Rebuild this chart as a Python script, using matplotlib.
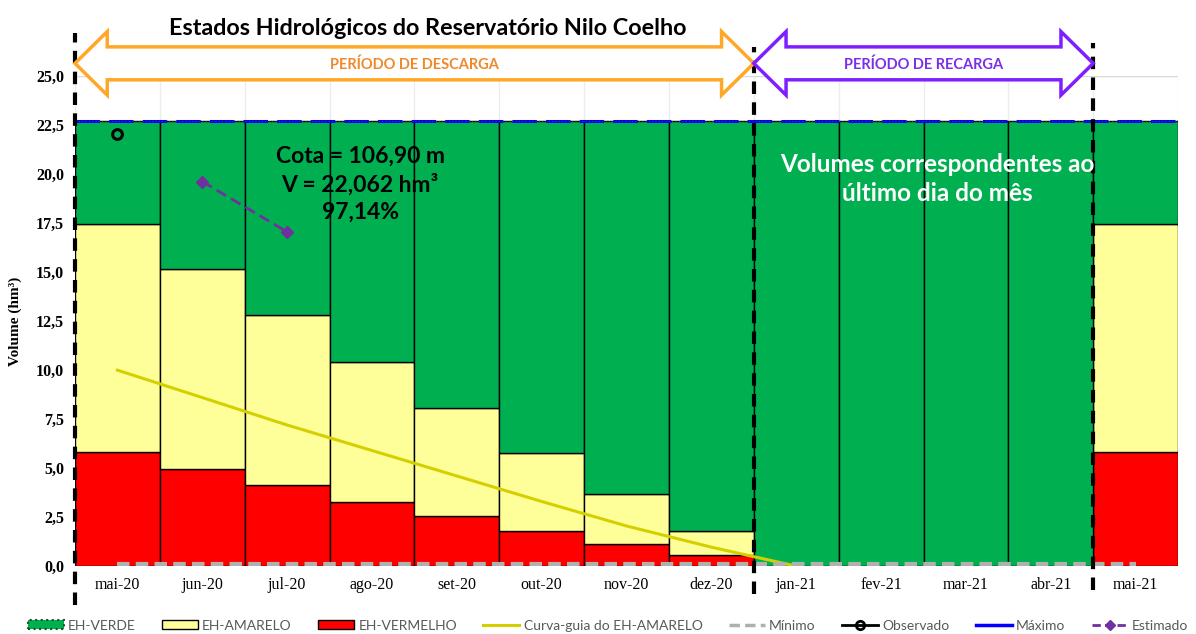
import matplotlib
matplotlib.use("Agg")
from matplotlib import pyplot as plt
from matplotlib.patches import Patch, Polygon
from matplotlib.lines import Line2D
import numpy as np

# data
meses = ["mai-20", "jun-20", "jul-20", "ago-20", "set-20", "out-20", "nov-20",
         "dez-20", "jan-21", "fev-21", "mar-21", "abr-21", "mai-21"]
vermelho = [5.82, 4.95, 4.13, 3.28, 2.55, 1.79, 1.12, 0.55, 0, 0, 0, 0, 5.82]
amarelo_topo = [17.45, 15.15, 12.8, 10.4, 8.06, 5.77, 3.67, 1.79, 0, 0, 0, 0, 17.45]
maximo = 22.71
minimo = 0.1
curva_guia = [10.0, 8.6, 7.2, 5.9, 4.6, 3.3, 2.05, 0.97, 0.0]
observado_mes = [0]
observado = [22.062]
estimado_mes = [1, 2]
estimado = [19.62, 17.05]
periodos = [("PERÍODO DE DESCARGA", 0, 8, "#ffa726", "#f0882c"),
            ("PERÍODO DE RECARGA", 8, 12, "#7f1fff", "#7a2fe8")]
marcos = [(-0.5, 27.2, -2.0), (7.5, 26.5, -1.4), (11.5, 26.7, -1.2)]

VERDE = "#00b050"
AMARELO = "#ffff99"
VERMELHO = "#ff0000"
SERIF = "Liberation Serif"
SANS = "Lato"

x = np.arange(len(meses))
red = np.array(vermelho)
yel_top = np.array(amarelo_topo)
yel = yel_top - red
green = maximo - yel_top

fig = plt.figure(figsize=(11.96, 6.34), dpi=100)
ax = fig.add_axes([0.0627, 0.107, 0.9223, 0.773])

ax.bar(x, red, width=1.0, color=VERMELHO, edgecolor="black", linewidth=1, zorder=2)
ax.bar(x, yel, bottom=red, width=1.0, color=AMARELO, edgecolor="black", linewidth=1, zorder=2)
ax.bar(x, green, bottom=yel_top, width=1.0, color=VERDE, edgecolor="black", linewidth=1, zorder=2)

ax.plot(x[:len(curva_guia)], curva_guia, color="#d4d000", lw=2.2, zorder=4)
ax.plot([x[0], x[-1]], [minimo, minimo], color="#b0b0b0", lw=3, ls=(0, (3, 1.5)), zorder=5)
ax.plot([-0.5, 12.5], [maximo, maximo], color="#0000ff", lw=2.2, ls=(0, (8, 3)), zorder=5)
ax.plot([-0.5, 12.5], [maximo, maximo], color="#444444", lw=0.8, ls=(0, (1, 2)), zorder=5)
ax.plot(observado_mes, observado, ls="none", marker="o", ms=7, mfc="none",
        mec="black", mew=2.2, zorder=6)
ax.plot(estimado_mes, estimado, color="#7030a0", lw=2, ls=(0, (4, 2)),
        marker="D", ms=6, zorder=6)

ax.set_xlim(-0.5, 12.5)
ax.set_ylim(0, 25)
ax.set_yticks(np.arange(0, 25.1, 2.5))
ax.set_yticklabels([f"{v:.1f}".replace(".", ",") for v in np.arange(0, 25.1, 2.5)],
                   fontfamily=SERIF, fontweight="bold", fontsize=11.5)
ax.set_xticks(x)
ax.set_xticklabels(meses, fontfamily=SERIF, fontsize=11.5)
ax.set_xticks(np.arange(-0.5, 13, 1), minor=True)
ax.tick_params(axis="both", which="both", length=0, pad=8)
ax.grid(axis="y", color="#d9d9d9", lw=1, zorder=0)
ax.grid(axis="x", which="minor", color="#ececec", lw=1, zorder=0)
ax.set_axisbelow(True)
for s in ax.spines.values():
    s.set_visible(False)
ax.set_ylabel("Volume (hm³)", fontfamily=SERIF, fontweight="bold", fontsize=11, labelpad=10)

# vertical period markers
for xm, ytop, ybot in marcos:
    ax.plot([xm, xm], [ybot, ytop], color="black", lw=3, ls=(0, (3, 2)),
            clip_on=False, zorder=7)

# double arrows for the periods
yc, s_h, H, hl = 25.65, 0.84, 1.62, 0.38
for txt, i0, i1, ec, tc in periodos:
    x0, x1 = i0 - 0.5, i1 - 0.5
    pts = [(x0, yc), (x0 + hl, yc + H), (x0 + hl, yc + s_h), (x1 - hl, yc + s_h),
           (x1 - hl, yc + H), (x1, yc), (x1 - hl, yc - H), (x1 - hl, yc - s_h),
           (x0 + hl, yc - s_h), (x0 + hl, yc - H)]
    ax.add_patch(Polygon(pts, closed=True, facecolor="white", edgecolor=ec,
                         lw=2.5, clip_on=False, zorder=8))
    ax.text((x0 + x1) / 2, yc - 0.05, txt, ha="center", va="center", color=tc,
            fontfamily=SANS, fontweight="bold", fontsize=10.5, zorder=9)

fig.text(0.358, 0.955, "Estados Hidrológicos do Reservatório Nilo Coelho", ha="center",
         va="center", fontfamily=SANS, fontweight="bold", fontsize=16.8)

ax.text(2.86, 19.5, "Cota = 106,90 m\nV = 22,062 hm³\n97,14%", ha="center", va="center",
        fontfamily=SANS, fontweight="bold", fontsize=16.5, linespacing=1.35, zorder=9)
ax.text(9.66, 19.75, "Volumes correspondentes ao\núltimo dia do mês", ha="center",
        va="center", color="white", fontfamily=SANS, fontweight="bold", fontsize=17.5,
        linespacing=1.3, zorder=9)

handles = [
    Patch(facecolor=VERDE, edgecolor="#1a4d2e", ls=":", lw=1.5),
    Patch(facecolor=AMARELO, edgecolor="black", lw=1),
    Patch(facecolor=VERMELHO, edgecolor="black", lw=1),
    Line2D([], [], color="#d4d000", lw=2.2),
    Line2D([], [], color="#b0b0b0", lw=2.5, ls=(0, (3, 1.5))),
    Line2D([], [], color="black", lw=2, marker="o", ms=6, mfc="none", mew=2),
    Line2D([], [], color="#0000ff", lw=2.5),
    Line2D([], [], color="#7030a0", lw=2, ls=(0, (3, 1.5)), marker="D", ms=5),
]
labels = ["EH-VERDE", "EH-AMARELO", "EH-VERMELHO", "Curva-guia do EH-AMARELO",
          "Mínimo", "Observado", "Máximo", "Estimado"]
leg = fig.legend(handles, labels, loc="lower left",
                 bbox_to_anchor=(22 / 1196, -0.005, 1172 / 1196, 0.04), mode="expand",
                 ncol=8, frameon=False, handlelength=2.6, handleheight=0.6,
                 handletextpad=0.3, borderaxespad=0, prop={"family": SANS, "size": 10})
for t in leg.get_texts():
    t.set_color("#595959")

fig.savefig("out.png", dpi=100)
